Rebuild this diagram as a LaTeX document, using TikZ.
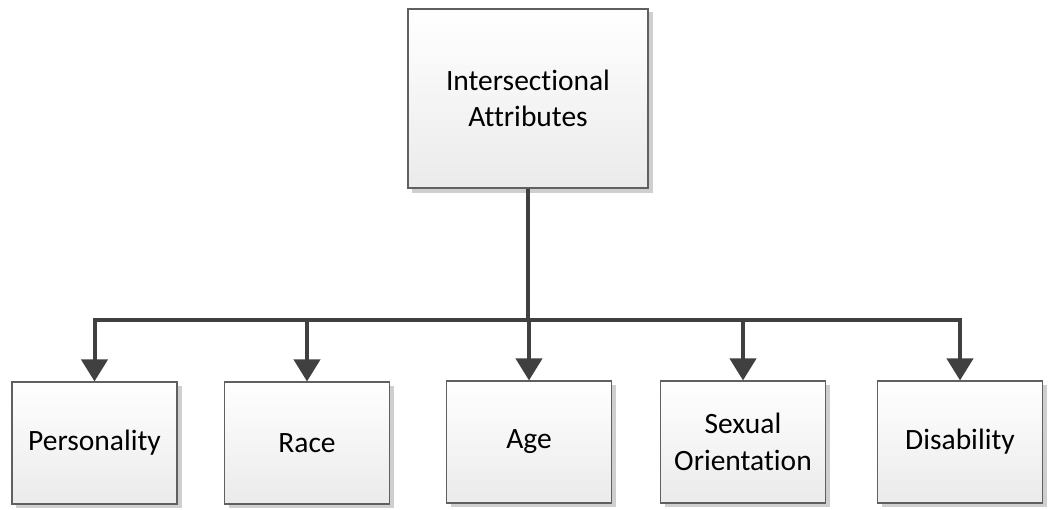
\documentclass[tikz,border=0pt]{standalone}
\usepackage{fontspec}
\setmainfont[Ligatures={NoCommon,NoRare}]{Carlito}
\usetikzlibrary{arrows.meta}
\definecolor{boxline}{HTML}{606060}
\definecolor{wire}{HTML}{404040}
\definecolor{shade}{HTML}{CFCFCF}
\begin{document}
\begin{tikzpicture}[x=1pt,y=1pt,
  attr/.style={draw=boxline, line width=1.1pt, top color=white, bottom color=black!8,
    align=center, inner sep=0pt, text=black,
    font=\fontsize{29.5}{36.5}\selectfont,
    minimum width=165pt, minimum height=122pt},
  rootbox/.style={attr, minimum width=240pt, minimum height=179pt},
  shadowbox/.style={fill=shade, draw=none},
  link/.style={draw=wire, line width=4pt, -{Triangle[width=26pt,length=22pt]}}]
\useasboundingbox (0,0) rectangle (1049,509);

% drop shadows
\fill[shadowbox] (412,316) rectangle (653,497);
\foreach \cx/\cy in {94.5/66, 307/66, 529/67, 743/67, 960/67}
  \fill[shadowbox] (\cx-78.5,\cy-65) rectangle (\cx+87,\cy+57);

% boxes
\node[rootbox] (root) at (528,410.5) {Intersectional\\Attributes};
\node[attr] (pers) at (94.5,66) {Personality};
\node[attr] (race) at (307,66) {Race};
\node[attr] (age)  at (529,67) {Age};
\node[attr] (sex)  at (743,67) {Sexual\\Orientation};
\node[attr] (dis)  at (960,67) {Disability};

% tree connectors from the root through the bus line
\foreach \t in {pers,race,age,sex,dis}
  \draw[link] (root.south) |- (528,189) -| (\t.north);
\end{tikzpicture}
\end{document}
